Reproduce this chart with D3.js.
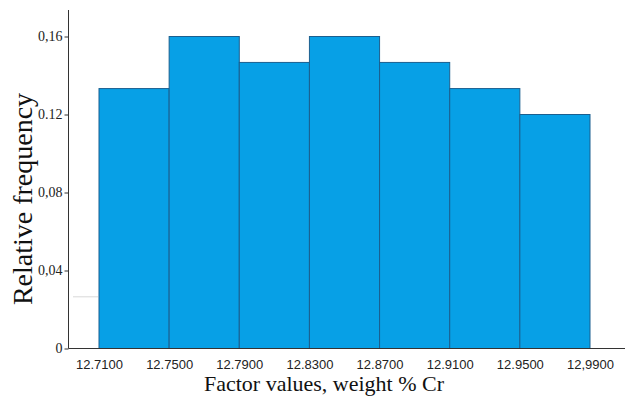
<!DOCTYPE html>
<html>
<head>
<meta charset="utf-8">
<script src="https://cdn.jsdelivr.net/npm/d3@7"></script>
<style>
  html, body { margin: 0; padding: 0; background: #fff; }
  svg { display: block; }
</style>
</head>
<body>
<svg id="chart" width="625" height="399"></svg>
<script>
// Histogram bins: edges along the factor axis and relative frequency per bin
const binEdges = [12.71, 12.75, 12.79, 12.83, 12.87, 12.91, 12.95, 12.99];
const frequencies = [0.1333, 0.16, 0.1467, 0.16, 0.1467, 0.1333, 0.12];
const xTickLabels = ["12.7100", "12.7500", "12.7900", "12.8300", "12.8700", "12.9100", "12.9500", "12,9900"];
const yTickValues = [0, 0.04, 0.08, 0.12, 0.16];
const yTickLabels = ["0", "0,04", "0,08", "0.12", "0,16"];

const svg = d3.select("#chart");
const axisX0 = 68.5, axisY0 = 348.5;

const x = d3.scaleLinear().domain([12.71, 12.99]).range([99, 590]);
const y = d3.scaleLinear().domain([0, 0.16]).range([348.5, 36.5]);

// bars
const bins = frequencies.map((v, i) => ({ x0: binEdges[i], x1: binEdges[i + 1], v }));
svg.append("g").selectAll("rect").data(bins).join("rect")
  .attr("x", d => x(d.x0))
  .attr("y", d => y(d.v))
  .attr("width", d => x(d.x1) - x(d.x0))
  .attr("height", d => y(0) - y(d.v))
  .attr("fill", "#07a0e6")
  .attr("stroke", "#1b5f8f")
  .attr("stroke-width", 1);

// faint leftover grid stub
svg.append("line")
  .attr("x1", 73).attr("x2", 98)
  .attr("y1", y(0.0265)).attr("y2", y(0.0265))
  .attr("stroke", "#d8d8d8").attr("stroke-width", 1);

// y axis
const yAxis = d3.axisLeft(y)
  .tickValues(yTickValues)
  .tickFormat((d, i) => yTickLabels[i])
  .tickSize(4)
  .tickSizeOuter(0);
const gy = svg.append("g").attr("transform", `translate(${axisX0},0)`).call(yAxis);
gy.select(".domain").remove();
gy.selectAll(".tick line").attr("stroke", "#333");
gy.selectAll(".tick text")
  .attr("x", -6)
  .attr("font-family", "'Liberation Serif', 'Times New Roman', serif")
  .attr("font-size", 14)
  .attr("fill", "#222");
svg.append("line")
  .attr("x1", axisX0).attr("x2", axisX0)
  .attr("y1", 10).attr("y2", axisY0)
  .attr("stroke", "#333").attr("stroke-width", 1);

// x axis
const xAxis = d3.axisBottom(x)
  .tickValues(binEdges)
  .tickFormat((d, i) => xTickLabels[i])
  .tickSize(0)
  .tickSizeOuter(0);
const gx = svg.append("g").attr("transform", `translate(0,${axisY0})`).call(xAxis);
gx.select(".domain").remove();
gx.selectAll(".tick text")
  .attr("y", 11)
  .attr("dy", "0.71em")
  .attr("font-family", "'Liberation Sans', Arial, sans-serif")
  .attr("font-size", 13)
  .attr("fill", "#222");
svg.append("line")
  .attr("x1", axisX0).attr("x2", 625)
  .attr("y1", axisY0).attr("y2", axisY0)
  .attr("stroke", "#333").attr("stroke-width", 1);

// axis titles
svg.append("text")
  .attr("x", 324).attr("y", 391)
  .attr("text-anchor", "middle")
  .attr("font-family", "'Liberation Serif', 'Times New Roman', serif")
  .attr("font-size", 22)
  .attr("fill", "#111")
  .text("Factor values, weight % Cr");

svg.append("text")
  .attr("transform", "translate(32,199) rotate(-90)")
  .attr("text-anchor", "middle")
  .attr("font-family", "'Liberation Serif', 'Times New Roman', serif")
  .attr("font-size", 28)
  .attr("fill", "#111")
  .text("Relative frequency");
</script>
</body>
</html>
